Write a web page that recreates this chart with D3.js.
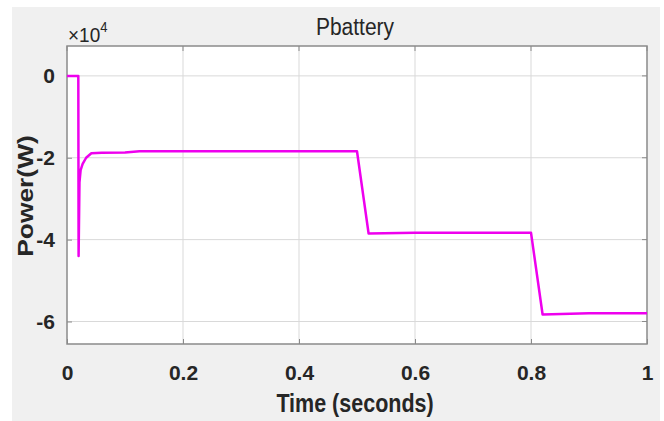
<!DOCTYPE html>
<html>
<head>
<meta charset="utf-8">
<script src="https://cdn.jsdelivr.net/npm/d3@7"></script>
<style>
  body { margin: 0; background: #fff; }
  svg { display: block; font-family: "Liberation Sans", Arial, sans-serif; }
</style>
</head>
<body>
<div id="chart"></div>
<script>
// time in seconds, battery power in W
const timeS = [0, 0.0195, 0.0200, 0.0215, 0.0235, 0.027, 0.033, 0.042, 0.06, 0.10, 0.125, 0.3, 0.5, 0.52, 0.6, 0.8, 0.82, 0.9, 1.0];
const powerW = [0, 0, -44000, -26000, -23000, -21500, -20000, -18900, -18800, -18700, -18400, -18400, -18400, -38500, -38300, -38300, -58300, -58000, -58000];
const xTicks = [0, 0.2, 0.4, 0.6, 0.8, 1];
const yTicks = [0, -20000, -40000, -60000];

const W = 664, H = 421;
const margin = {top: 46, right: 17, bottom: 77, left: 67};
const width = W - margin.left - margin.right;
const height = H - margin.top - margin.bottom;

const svg = d3.select("#chart").append("svg")
    .attr("width", W)
    .attr("height", H);

// figure background
svg.append("rect")
    .attr("x", 12).attr("y", 7)
    .attr("width", 648).attr("height", 414)
    .attr("fill", "#f0f0f0");

const g = svg.append("g")
    .attr("transform", "translate(" + margin.left + "," + margin.top + ")");

const x = d3.scaleLinear().domain([0, 1]).range([0, width]);
const y = d3.scaleLinear().domain([-65500, 7300]).range([height, 0]);

g.append("rect")
    .attr("width", width).attr("height", height)
    .attr("fill", "#fff");

// grid
g.append("g").selectAll("line").data(xTicks.slice(1, -1)).join("line")
    .attr("x1", d => x(d)).attr("x2", d => x(d))
    .attr("y1", 0).attr("y2", height)
    .attr("stroke", "#d9d9d9").attr("stroke-width", 1);
g.append("g").selectAll("line").data(yTicks).join("line")
    .attr("x1", 0).attr("x2", width)
    .attr("y1", d => y(d)).attr("y2", d => y(d))
    .attr("stroke", "#d9d9d9").attr("stroke-width", 1);

// axes
const xAxis = g.append("g")
    .attr("transform", "translate(0," + height + ")")
    .call(d3.axisBottom(x).tickValues(xTicks).tickSize(-5).tickPadding(21)
        .tickFormat(d => d3.format("")(d)));
const yAxis = g.append("g")
    .call(d3.axisLeft(y).tickValues(yTicks).tickSize(-5).tickPadding(12)
        .tickFormat(d => d / 1e4));
[xAxis, yAxis].forEach(a => {
    a.select(".domain").remove();
    a.selectAll(".tick line").attr("stroke", "#8a8a8a");
    a.selectAll("text")
        .attr("fill", "#262626")
        .attr("font-size", 21)
        .attr("font-weight", "bold");
});
// top / right ticks
g.append("g").selectAll("line").data(xTicks).join("line")
    .attr("x1", d => x(d)).attr("x2", d => x(d))
    .attr("y1", 0).attr("y2", 5)
    .attr("stroke", "#8a8a8a");
g.append("g").selectAll("line").data(yTicks).join("line")
    .attr("x1", width - 5).attr("x2", width)
    .attr("y1", d => y(d)).attr("y2", d => y(d))
    .attr("stroke", "#8a8a8a");

// box
g.append("rect")
    .attr("width", width).attr("height", height)
    .attr("fill", "none")
    .attr("stroke", "#8a8a8a").attr("stroke-width", 1.5);

// data line
const pts = timeS.map((t, i) => [t, powerW[i]]);
g.append("path")
    .datum(pts)
    .attr("fill", "none")
    .attr("stroke", "#ee00ee")
    .attr("stroke-width", 2.5)
    .attr("stroke-linejoin", "round")
    .attr("d", d3.line().x(d => x(d[0])).y(d => y(d[1])));

// labels (source image is slightly stretched vertically)
svg.append("text")
    .attr("transform", "translate(" + (margin.left + width / 2 - 2) + ",35) scale(1,1.15)")
    .attr("text-anchor", "middle")
    .attr("font-size", 21)
    .attr("fill", "#262626")
    .text("Pbattery");

const expo = svg.append("text")
    .attr("transform", "translate(68,42) scale(1,1.1)")
    .attr("font-size", 19)
    .attr("fill", "#262626");
expo.append("tspan").text("\u00d710");
expo.append("tspan").attr("dy", -9).attr("font-size", 13).text("4");

svg.append("text")
    .attr("transform", "translate(" + (margin.left + width / 2 - 2) + ",412) scale(1,1.22)")
    .attr("text-anchor", "middle")
    .attr("font-size", 21.5)
    .attr("font-weight", "bold")
    .attr("fill", "#262626")
    .text("Time (seconds)");

svg.append("text")
    .attr("transform", "translate(33,196) rotate(-90) scale(1.2,1)")
    .attr("text-anchor", "middle")
    .attr("font-size", 22)
    .attr("font-weight", "bold")
    .attr("fill", "#262626")
    .text("Power(W)");
</script>
</body>
</html>
